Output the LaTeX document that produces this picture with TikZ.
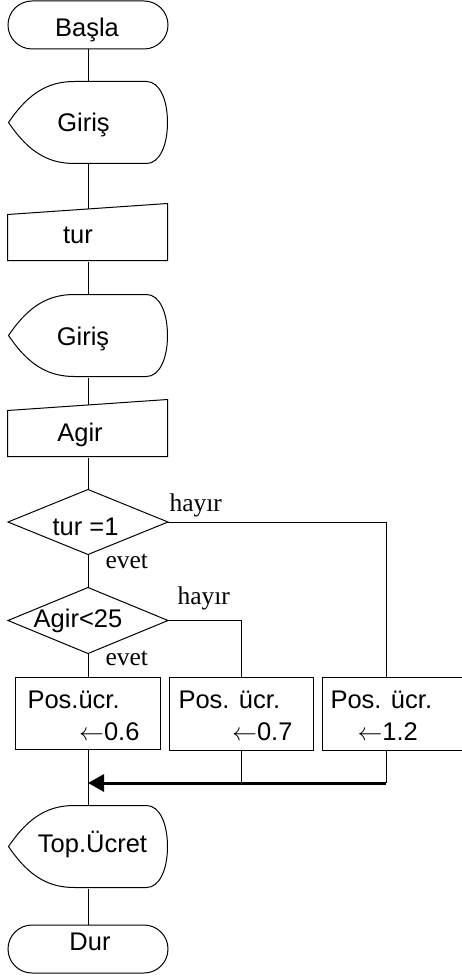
\documentclass[tikz,border=0pt]{standalone}
\usepackage{fontspec}
\setmainfont{Liberation Sans}
\newfontfamily\lblfont{Liberation Serif}
\usetikzlibrary{shapes.misc,arrows.meta,calc}
\newcommand\dispoutline[1]{%
  \begin{scope}[shift={(#1.north west)}]
    \draw (67,0) -- (139,0) .. controls (152,0) and (160,18) .. (160,41)
      .. controls (160,64) and (152,82) .. (139,82) -- (67,82)
      .. controls (42,82) and (22,72) .. (1,41)
      .. controls (22,10) and (42,0) .. (67,0) -- cycle;
  \end{scope}}
\newcommand\manoutline[1]{%
  \begin{scope}[shift={(#1.north west)}]
    \draw (0,5.5) -- (160,-5.5) -- (160,51.5) -- (0,51.5) -- cycle;
  \end{scope}}
% text shifted by #1 (right) and baseline #2 below the node centre
\newcommand\tx[3]{\raisebox{-#2pt}{\kern#1pt #3\kern-#1pt}}
\begin{document}
\begin{tikzpicture}[x=1pt,y=-1pt,line width=1pt,
  every node/.style={font=\fontsize{25.5}{30}\selectfont},
  term/.style={rounded rectangle, draw, minimum width=160pt, minimum height=48pt,
    inner sep=0pt, text height=0pt, text depth=0pt},
  frame/.style={rectangle, draw=none, inner sep=0pt, text height=0pt, text depth=0pt},
  procbox/.style={rectangle, draw, inner sep=0pt},
  lbl/.style={font=\lblfont\fontsize{25.5}{30}\selectfont, inner sep=0pt, anchor=base west},
  txt/.style={inner sep=0pt},
  flowarrow/.style={line width=3pt, -{Triangle[length=16pt,width=17pt]}}
]
\useasboundingbox (0,0) rectangle (462,976);

% column shapes
\node[term] (start) at (88,25) {\tx{-1}{12}{Başla}};
\node[frame, minimum width=160pt, minimum height=82pt] (g1) at (88,123) {\tx{-4.5}{9}{Giriş}};
\dispoutline{g1}
\node[frame, minimum width=160pt, minimum height=51.5pt] (tur) at (88,235.25) {\tx{-10}{8}{tur}};
\manoutline{tur}
\node[frame, minimum width=160pt, minimum height=82pt] (g2) at (88,336) {\tx{-5}{9}{Giriş}};
\dispoutline{g2}
\node[frame, minimum width=160pt, minimum height=51.5pt] (agir) at (88,431.25) {\tx{-8}{10}{Agir}};
\manoutline{agir}
\node[frame, minimum width=159pt, minimum height=64pt] (d1) at (88,522) {\tx{-2.5}{13.5}{tur =1}};
\draw (d1.north) -- (d1.east) -- (d1.south) -- (d1.west) -- cycle;
\node[frame, minimum width=159pt, minimum height=65pt] (d2) at (88,620.5) {\tx{-10}{6.5}{Agir<25}};
\draw (d2.north) -- (d2.east) -- (d2.south) -- (d2.west) -- cycle;

% process boxes
\node[procbox, minimum width=145pt, minimum height=72pt] (b1) at (88,713) {};
\node[procbox, minimum width=144pt, minimum height=73pt] (b2) at (241,713.5) {};
\node[procbox, minimum width=148pt, minimum height=73pt] (b3) at (396,713.5) {};
\node[txt, anchor=base west] (b1a) at (27,708) {Pos.ücr.};
\node[txt, anchor=base east] (b1b) at (140,740) {$\leftarrow$0.6};
\node[txt, anchor=base west] (b2a) at (178,708) {Pos. ücr.};
\node[txt, anchor=base east] (b2b) at (293,740) {$\leftarrow$0.7};
\node[txt, anchor=base west] (b3a) at (330,708) {Pos. ücr.};
\node[txt, anchor=base west] (b3b) at (357,740) {$\leftarrow$1.2};

\node[frame, minimum width=160pt, minimum height=82pt] (top) at (88,847) {\tx{4.5}{5}{Top.Ücret}};
\dispoutline{top}
\node[term] (stop) at (88,949) {\tx{2}{1.5}{Dur}};

% labels
\node[lbl] (h1) at (169,511) {hayır};
\node[lbl] (e1) at (105,568) {evet};
\node[lbl] (h2) at (177,604) {hayır};
\node[lbl] (e2) at (105,665) {evet};

% connectors
\draw (start.south) -- (g1.north);
\draw (g1.south) -- (tur.north);
\draw (tur.south) -- (g2.north);
\draw (g2.south) -- (agir.north);
\draw (agir.south) -- (d1.north);
\draw (d1.south) -- (d2.north);
\draw (d1.east) -| ([xshift=-10pt]b3.north);
\draw (d2.east) -| (b2.north);
\draw (d2.south) -- (b1.north);
\draw (b1.south) -- (top.north);
\coordinate (j) at (88,783);
\coordinate (m2) at (241,783);
\coordinate (m3) at (386,783);
\draw ([xshift=-10pt]b3.south) -- (m3);
\draw (b2.south) -- (m2);
\draw[flowarrow] (m3) -- (j);
\draw (top.south) -- (stop.north);
\end{tikzpicture}
\end{document}
